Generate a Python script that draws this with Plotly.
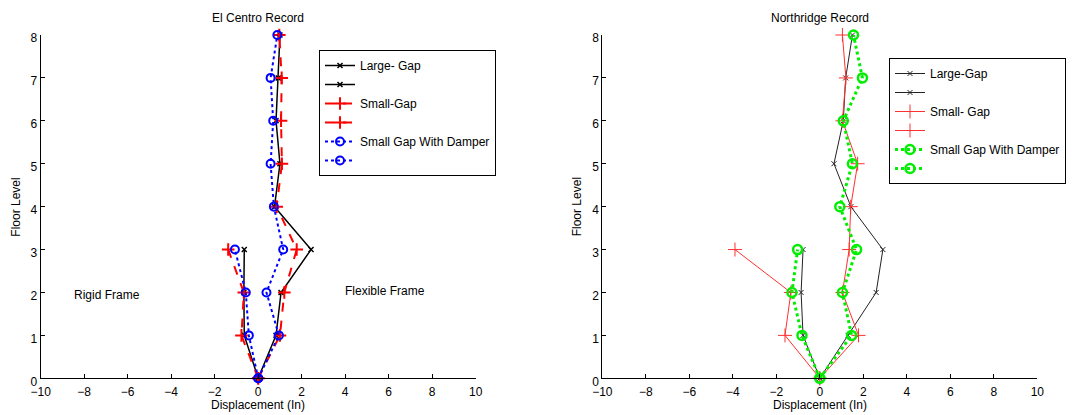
import plotly.graph_objects as go

floors = [0, 1, 2, 3, 4, 5, 6, 7, 8]
floors_neg = [0, 1, 2, 3]

# El Centro record (displacement in inches)
ec_large_pos = [0, 0.82, 1.05, 2.43, 0.75, 1.0, 0.82, 0.92, 1.0]
ec_large_neg = [0, -0.64, -0.66, -0.64]
ec_small_pos = [0, 1.0, 1.2, 1.77, 0.85, 1.09, 1.05, 1.08, 0.97]
ec_small_neg = [0, -0.77, -0.66, -1.38]
ec_damp_pos = [0, 0.95, 0.38, 1.15, 0.72, 0.57, 0.69, 0.57, 0.88]
ec_damp_neg = [0, -0.43, -0.57, -1.07]

# Northridge record
nr_large_pos = [0, 1.3, 2.59, 2.9, 1.43, 0.65, 1.08, 1.19, 1.5]
nr_large_neg = [0, -0.77, -0.86, -0.77]
nr_small_pos = [0, 1.78, 1.04, 1.35, 1.42, 1.74, 1.04, 1.2, 1.04]
nr_small_neg = [0, -1.6, -1.33, -3.9]
nr_damp_pos = [0, 1.46, 1.04, 1.69, 0.92, 1.5, 1.08, 1.96, 1.55]
nr_damp_neg = [0, -0.82, -1.28, -1.02]

titles = ["El Centro Record", "Northridge Record"]
legend_left = ["Large- Gap", " ", "Small-Gap", " ", "Small Gap With Damper", " "]
legend_right = ["Large-Gap", " ", "Small- Gap", " ", "Small Gap With Damper", " "]
x_ticks = [-10, -8, -6, -4, -2, 0, 2, 4, 6, 8, 10]
y_ticks = [0, 1, 2, 3, 4, 5, 6, 7, 8]

FONT = "Liberation Sans, Arial, sans-serif"
FS = 12

fig = go.Figure()

def add(x, y, name, xa, ya, leg, color, width, dash, symbol, msize, mline, show=True):
    fig.add_trace(go.Scatter(
        x=x, y=y, mode="lines+markers", name=name,
        xaxis=xa, yaxis=ya, legend=leg,
        line=dict(color=color, width=width, dash=dash),
        marker=dict(symbol=symbol, size=msize, color=color,
                    line=dict(color=color, width=mline)),
        cliponaxis=False, showlegend=show,
    ))

# Left: El Centro
add(ec_large_pos, floors, legend_left[0], "x", "y", "legend", "black", 1.5, "solid", "x-thin", 5, 1.5)
add(ec_large_neg, floors_neg, legend_left[1], "x", "y", "legend", "black", 1.5, "solid", "x-thin", 5, 1.5)
add(ec_small_pos, floors, legend_left[2], "x", "y", "legend", "red", 2, "dash", "cross-thin", 9, 2)
add(ec_small_neg, floors_neg, legend_left[3], "x", "y", "legend", "red", 2, "dash", "cross-thin", 9, 2)
add(ec_damp_pos, floors, legend_left[4], "x", "y", "legend", "blue", 2, "dot", "circle-open", 8, 2)
add(ec_damp_neg, floors_neg, legend_left[5], "x", "y", "legend", "blue", 2, "dot", "circle-open", 8, 2)

# Right: Northridge
add(nr_large_pos, floors, legend_right[0], "x2", "y2", "legend2", "#222222", 1, "solid", "x-thin", 5, 1)
add(nr_large_neg, floors_neg, legend_right[1], "x2", "y2", "legend2", "#222222", 1, "solid", "x-thin", 5, 1)
add(nr_small_pos, floors, legend_right[2], "x2", "y2", "legend2", "#ff3030", 1, "solid", "cross-thin", 10, 1)
add(nr_small_neg, floors_neg, legend_right[3], "x2", "y2", "legend2", "#ff3030", 1, "solid", "cross-thin", 10, 1)
add(nr_damp_pos, floors, legend_right[4], "x2", "y2", "legend2", "#00ee00", 3, "dot", "circle-open", 9, 2.5)
add(nr_damp_neg, floors_neg, legend_right[5], "x2", "y2", "legend2", "#00ee00", 3, "dot", "circle-open", 9, 2.5)

W, H = 1072, 415
left_dom = [40.7 / W, 475.7 / W]
right_dom = [602.3 / W, 1037.3 / W]
y_dom = [1 - 378.3 / H, 1 - 35 / H]

axis_common = dict(showline=True, linecolor="black", linewidth=1, ticks="inside",
                   ticklen=4, tickcolor="black", showgrid=False, zeroline=False,
                   mirror=False, automargin=False,
                   tickfont=dict(family=FONT, size=FS, color="black"))

fig.update_layout(
    width=W, height=H, margin=dict(l=0, r=0, t=0, b=0, autoexpand=False),
    paper_bgcolor="white", plot_bgcolor="white",
    font=dict(family=FONT, size=FS, color="black"),
    xaxis=dict(domain=left_dom, range=[-10, 10], tickvals=x_ticks, anchor="y",
               ticklabelstandoff=2, **axis_common),
    yaxis=dict(domain=y_dom, range=[0, 8], tickvals=y_ticks, anchor="x",
               ticklabelshift=3, **axis_common),
    xaxis2=dict(domain=right_dom, range=[-10, 10], tickvals=x_ticks, anchor="y2",
                ticklabelstandoff=2, **axis_common),
    yaxis2=dict(domain=y_dom, range=[0, 8], tickvals=y_ticks, anchor="x2",
                ticklabelshift=3, **axis_common),
    legend=dict(x=319 / W, y=1 - 50 / H, xanchor="left", yanchor="top",
                bgcolor="white", bordercolor="black", borderwidth=1,
                font=dict(family=FONT, size=FS), tracegroupgap=0, itemwidth=30),
    legend2=dict(x=889 / W, y=1 - 58 / H, xanchor="left", yanchor="top",
                 bgcolor="white", bordercolor="black", borderwidth=1,
                 font=dict(family=FONT, size=FS), tracegroupgap=0, itemwidth=30),
    showlegend=True,
)

for dom, t in zip([left_dom, right_dom], titles):
    cx = (dom[0] + dom[1]) / 2
    fig.add_annotation(text=t, x=cx, y=1 - 18 / H, xref="paper", yref="paper",
                       xanchor="center", yanchor="middle",
                       showarrow=False, font=dict(size=FS))
    fig.add_annotation(text="Displacement (In)", x=cx, y=1 - 405 / H, xref="paper", yref="paper",
                       xanchor="center", yanchor="middle",
                       showarrow=False, font=dict(size=FS))
    fig.add_annotation(text="Floor Level", x=dom[0] - 25 / W, y=1 - 207 / H,
                       xref="paper", yref="paper", textangle=-90,
                       xanchor="center", yanchor="middle",
                       showarrow=False, font=dict(size=FS))

fig.add_annotation(text="Rigid Frame", x=-6.96, y=1.94, xref="x", yref="y",
                   showarrow=False, font=dict(size=FS))
fig.add_annotation(text="Flexible Frame", x=5.82, y=2.03, xref="x", yref="y",
                   showarrow=False, font=dict(size=FS))

fig.write_html("out.html")
